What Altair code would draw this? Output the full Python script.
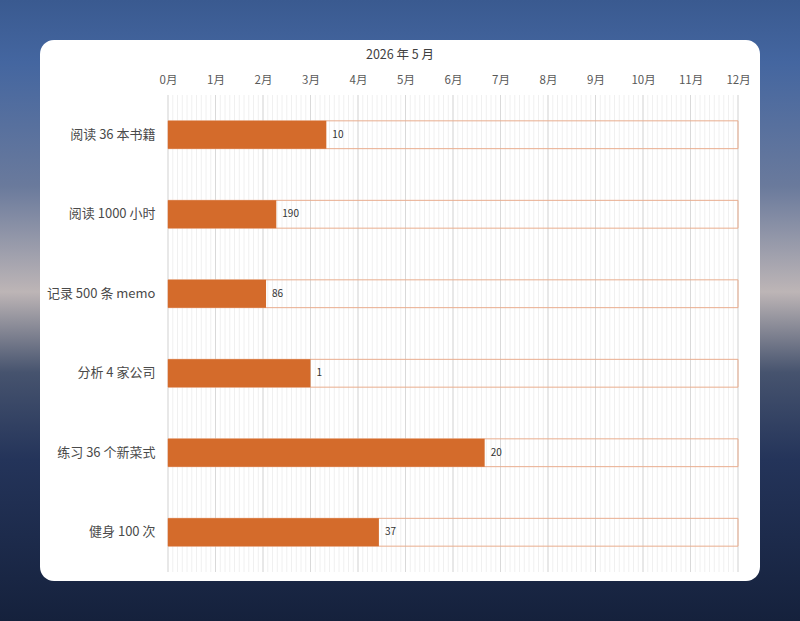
import altair as alt
import pandas as pd

# Yearly goals: target amount and how much has been done so far
goals = ["阅读 36 本书籍", "阅读 1000 小时", "记录 500 条 memo", "分析 4 家公司", "练习 36 个新菜式", "健身 100 次"]
targets = [36, 1000, 500, 4, 36, 100]
done = [10, 190, 86, 1, 20, 37]
heading = ["2026 年 5 月"]

months = list(range(13))          # 0月 … 12月
steps_per_month = 10              # faint sub-month grid lines

W, H = 570, 477
PAD_L, PAD_T, PAD_R, PAD_B = 168, 95, 62, 49
FULL_W, FULL_H = W + PAD_L + PAD_R, H + PAD_T + PAD_B

FONT = "Noto Sans CJK SC"
BAR = "#d46b2b"
OUTLINE = "#e9ad8e"

df = pd.DataFrame({"goal": goals, "target": targets, "done": done})
month_df = pd.DataFrame({"month": months})

x_scale = alt.Scale(domain=[0, 12], nice=False, zero=True)
y_scale = alt.Scale(domain=goals, paddingInner=0.65, paddingOuter=0.325)

x_axis = alt.Axis(
    orient="top", values=months, labelExpr="datum.value + '月'",
    grid=False, domain=False, ticks=False, labelPadding=10, labelFlush=False,
    labelFontSize=11.5, labelColor="#595959", title=None, zindex=1,
)
y_axis = alt.Axis(
    orient="left", grid=False, domain=False, ticks=False, labelPadding=13,
    labelFontSize=13, labelColor="#4a4a4a", title=None, zindex=1,
)

one = pd.DataFrame({"k": [0]})

# page background
backdrop = alt.Chart(one).mark_rect(
    fill=alt.Gradient(
        gradient="linear", x1=0, y1=0, x2=0, y2=1,
        stops=[
            alt.GradientStop(offset=0.0, color="#3a5a90"),
            alt.GradientStop(offset=0.1, color="#4466a0"),
            alt.GradientStop(offset=0.3, color="#6a7a9c"),
            alt.GradientStop(offset=0.47, color="#bdb5b6"),
            alt.GradientStop(offset=0.6, color="#46536e"),
            alt.GradientStop(offset=0.74, color="#24345a"),
            alt.GradientStop(offset=1.0, color="#15213c"),
        ],
    )
).encode(
    x=alt.value(-PAD_L), x2=alt.value(FULL_W - PAD_L),
    y=alt.value(-PAD_T), y2=alt.value(FULL_H - PAD_T),
)

# white card behind the chart
card = alt.Chart(one).mark_rect(fill="white", cornerRadius=14).encode(
    x=alt.value(40 - PAD_L), x2=alt.value(760 - PAD_L),
    y=alt.value(40 - PAD_T), y2=alt.value(581 - PAD_T),
)

# heading centred on the card
title = alt.Chart(pd.DataFrame({"t": heading})).mark_text(
    align="center", baseline="middle", fontSize=12.5, color="#404040"
).encode(
    text="t:N",
    x=alt.value(400 - PAD_L), y=alt.value(55 - PAD_T),
)

minor_grid = alt.Chart(one).transform_calculate(
    s="sequence(0, 12 * %d + 1)" % steps_per_month
).transform_flatten(["s"]).transform_calculate(
    m="datum.s / %d" % steps_per_month
).mark_rule(color="#f0f0f0", strokeWidth=1).encode(
    x=alt.X("m:Q", scale=x_scale, axis=x_axis),
    y=alt.value(0), y2=alt.value(H),
)

major_grid = alt.Chart(month_df).mark_rule(color="#d9d9d9", strokeWidth=1).encode(
    x=alt.X("month:Q", scale=x_scale, axis=x_axis),
    y=alt.value(0), y2=alt.value(H),
)

base = alt.Chart(df).transform_calculate(
    full="12",
    progress="datum.done / datum.target * 12",
)

outline = base.mark_bar(fillOpacity=0, stroke=OUTLINE, strokeWidth=1).encode(
    x=alt.X("full:Q", scale=x_scale, axis=x_axis),
    y=alt.Y("goal:N", scale=y_scale, axis=y_axis, sort=goals),
)

filled = base.mark_bar(color=BAR).encode(
    x=alt.X("progress:Q", scale=x_scale, axis=x_axis),
    y=alt.Y("goal:N", scale=y_scale, axis=y_axis, sort=goals),
)

labels = base.mark_text(align="left", baseline="middle", dx=6, fontSize=10, color="#333333").encode(
    x=alt.X("progress:Q", scale=x_scale, axis=x_axis),
    y=alt.Y("goal:N", scale=y_scale, axis=y_axis, sort=goals),
    text=alt.Text("done:Q"),
)

chart = alt.layer(
    backdrop, card, title, minor_grid, major_grid, outline, filled, labels
).properties(
    width=W, height=H,
    autosize=alt.AutoSizeParams(type="none"),
    padding={"left": PAD_L, "top": PAD_T, "right": PAD_R, "bottom": PAD_B},
).configure(
    font=FONT,
).configure_view(
    stroke=None,
)

chart.save("out.html", embed_options={"renderer": "svg", "actions": False})
